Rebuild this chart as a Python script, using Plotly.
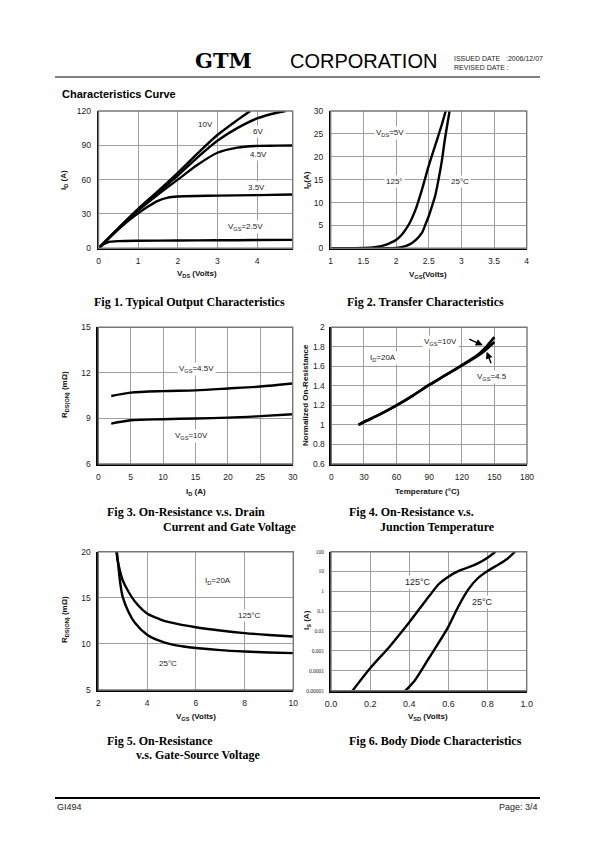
import plotly.graph_objects as go

W, H = 595, 842

# ---------------- data ----------------
# Fig 1: Typical Output Characteristics (ID vs VDS)
f1_vds_10 = [0, 0.5, 1.0, 1.5, 2.0, 2.5, 3.0, 3.5, 3.83]
f1_id_10 = [0, 17.5, 34.5, 50, 66, 83, 99, 112, 120]
f1_vds_6 = [0, 0.5, 1.0, 1.5, 2.0, 2.5, 3.0, 3.5, 4.0, 4.5, 4.72]
f1_id_6 = [0, 17.5, 34, 49, 63.5, 79.5, 94, 105, 113.5, 118.5, 120]
f1_vds_45 = [0, 0.5, 1.0, 1.5, 2.0, 2.5, 3.0, 3.5, 4.0, 4.5, 4.9]
f1_id_45 = [0, 17, 33, 47, 60, 73, 83.5, 88, 89.5, 89.7, 89.8]
f1_vds_35 = [0, 0.25, 0.5, 0.75, 1.0, 1.25, 1.5, 1.75, 2.0, 3.0, 4.0, 4.9]
f1_id_35 = [0, 8.5, 16.5, 24, 30.5, 36.5, 41.5, 44.3, 45.3, 46, 46.5, 47]
f1_vds_25 = [0, 0.1, 0.2, 0.3, 0.5, 1.0, 2.0, 3.0, 4.0, 4.9]
f1_id_25 = [0, 2.8, 4.8, 5.8, 6.3, 6.6, 6.8, 7.0, 7.2, 7.4]

# Fig 2: Transfer Characteristics (ID vs VGS)
f2_vgs_125 = [1.0, 1.5, 1.7, 1.8, 1.9, 2.0, 2.1, 2.2, 2.3, 2.4, 2.5, 2.6, 2.7, 2.76]
f2_id_125 = [0, 0.05, 0.3, 0.6, 1.1, 1.8, 3.2, 5.3, 8.5, 13.0, 18.0, 22.5, 27.0, 30]
f2_vgs_25 = [1.0, 1.9, 2.0, 2.1, 2.2, 2.3, 2.4, 2.45, 2.5, 2.55, 2.6, 2.65, 2.7, 2.75, 2.82]
f2_id_25 = [0, 0, 0.1, 0.3, 0.8, 1.8, 3.5, 5.2, 7.0, 9.2, 11.5, 15, 19, 24, 30]

# Fig 3: On-Resistance vs Drain Current
f3_id = [2, 5, 10, 15, 20, 25, 30]
f3_r_45 = [10.48, 10.7, 10.8, 10.85, 10.97, 11.1, 11.3]
f3_r_10 = [8.66, 8.88, 8.95, 9.0, 9.05, 9.15, 9.28]

# Fig 4: Normalized On-Resistance vs Junction Temperature
f4_t_10 = [25, 30, 45, 60, 75, 90, 105, 120, 135, 140, 150]
f4_r_10 = [1.0, 1.03, 1.11, 1.2, 1.3, 1.41, 1.51, 1.61, 1.72, 1.77, 1.90]
f4_t_45 = [25, 30, 45, 60, 75, 90, 105, 120, 135, 140, 150]
f4_r_45 = [1.0, 1.03, 1.11, 1.2, 1.3, 1.41, 1.51, 1.61, 1.71, 1.75, 1.85]

# Fig 5: On-Resistance vs Gate-Source Voltage
f5_vgs_125 = [2.74, 2.8, 2.9, 3.0, 3.25, 3.5, 4.0, 4.5, 5.0, 6.0, 7.0, 8.0, 9.0, 10.0]
f5_r_125 = [20, 19, 17.8, 16.9, 15.6, 14.6, 13.3, 12.7, 12.3, 11.8, 11.45, 11.17, 10.97, 10.8]
f5_vgs_25 = [2.76, 2.82, 2.9, 3.0, 3.25, 3.5, 4.0, 4.5, 5.0, 5.5, 6.0, 7.0, 8.0, 9.0, 10.0]
f5_r_25 = [20, 18.5, 16.6, 15.1, 13.4, 12.3, 11.0, 10.35, 9.95, 9.72, 9.56, 9.33, 9.18, 9.07, 9.0]

# Fig 6: Body Diode Characteristics (IS vs VSD, log)
f6_vsd_125 = [0.11, 0.2, 0.3, 0.4, 0.5, 0.55, 0.6, 0.65, 0.7, 0.75, 0.8, 0.84]
f6_is_125 = [1e-5, 1.35e-4, 1.7e-3, 0.028, 0.55, 2.3, 5.5, 10.5, 16, 26, 50, 100]
f6_vsd_25 = [0.38, 0.43, 0.5, 0.6, 0.65, 0.7, 0.75, 0.8, 0.85, 0.9, 0.94]
f6_is_25 = [1e-5, 3.5e-5, 4.3e-4, 0.017, 0.17, 1.2, 4.6, 10.7, 21, 43, 100]

f6_ytick_vals = [1e-5, 1e-4, 1e-3, 1e-2, 0.1, 1, 10, 100]
f6_ytick_text = ["0.00001", "0.0001", "0.001", "0.01", "0.1", "1", "10", "100"]
f4_ytick_vals = [0.6, 0.8, 1.0, 1.2, 1.4, 1.6, 1.8, 2.0]
f4_ytick_text = ["0.6", "0.8", "1", "1.2", "1.4", "1.6", "1.8", "2"]

# ---------------- helpers ----------------
SANS = "Liberation Sans, Arial, sans-serif"
SERIF = "Liberation Serif, Times New Roman, serif"
GRID = "#a0a0a0"
TICK = 8.5


def dom(x0, x1, y0, y1):
    return [x0 / W, x1 / W], [1 - y1 / H, 1 - y0 / H]


def PX(x):
    return x / W


def PY(y):
    return 1 - y / H


fig = go.Figure()
annotations = []
shapes = []


def add_line(xs, ys, n, width=2.4):
    fig.add_trace(go.Scatter(
        x=xs, y=ys, mode="lines", xaxis="x%d" % n if n > 1 else "x",
        yaxis="y%d" % n if n > 1 else "y",
        line=dict(color="black", width=width, shape="spline", smoothing=0.8),
        hoverinfo="skip", showlegend=False))


def axes(n, xdom, ydom, xrange, yrange, xdtick=None, ydtick=None, ylog=False,
         ytickvals=None, yticktext=None, yfont=TICK, xfont=TICK, yfontfam=SANS,
         ystandoff=4):
    sfx = "" if n == 1 else str(n)
    xa = dict(domain=xdom, range=xrange, anchor="y" + sfx, showgrid=True,
              gridcolor=GRID, gridwidth=1.4, zeroline=False, showline=True,
              linecolor="black", linewidth=1.6, ticks="", ticklabelstandoff=4,
              automargin=False,
              tickfont=dict(family=SANS, size=xfont, color="#222"), fixedrange=True)
    if xdtick:
        xa.update(tick0=xrange[0], dtick=xdtick)
    ya = dict(domain=ydom, range=yrange, anchor="x" + sfx, showgrid=True,
              gridcolor=GRID, gridwidth=1.4, zeroline=False, showline=True,
              linecolor="black", linewidth=1.6, ticks="", ticklabelstandoff=ystandoff,
              automargin=False,
              tickfont=dict(family=yfontfam, size=yfont, color="#222"), fixedrange=True)
    if ylog:
        ya["type"] = "log"
    if ydtick:
        ya.update(tick0=yrange[0], dtick=ydtick)
    if ytickvals is not None:
        ya.update(tickmode="array", tickvals=ytickvals, ticktext=yticktext)
    fig.layout["xaxis" + sfx] = xa
    fig.layout["yaxis" + sfx] = ya
    shapes.append(dict(type="rect", xref="x%s domain" % sfx, yref="y%s domain" % sfx,
                       x0=0, x1=1, y0=0, y1=1, line=dict(color="#777", width=1.4),
                       layer="above"))


def lab(n, x, y, text, box=True, size=8):
    sfx = "" if n == 1 else str(n)
    annotations.append(dict(x=x, y=y, xref="x" + sfx, yref="y" + sfx, text=text,
                            showarrow=False, bgcolor="white" if box else None,
                            borderpad=1,
                            font=dict(family=SANS, size=size, color="#222")))


def ptext(x, y, text, size=8, family=SANS, anchor="center", angle=0, color="#111", yanchor="middle"):
    annotations.append(dict(x=PX(x), y=PY(y), xref="paper", yref="paper", text=text,
                            showarrow=False, xanchor=anchor, yanchor=yanchor,
                            textangle=angle,
                            font=dict(family=family, size=size, color=color)))


# ---------------- Fig 1 ----------------
axes(1, *dom(98.5, 292.7, 111, 248.3), [0, 4.9], [0, 120], xdtick=1, ydtick=30)
for xs, ys in [(f1_vds_10, f1_id_10), (f1_vds_6, f1_id_6), (f1_vds_45, f1_id_45),
               (f1_vds_35, f1_id_35), (f1_vds_25, f1_id_25)]:
    add_line(xs, ys, 1)
lab(1, 2.71, 108.6, "10V")
lab(1, 4.02, 102.5, "6V")
lab(1, 4.03, 82.2, "4.5V")
lab(1, 3.99, 53.3, "3.5V")
lab(1, 3.70, 18.9, "V<sub>GS</sub>=2.5V")
ptext(197, 274, "<b>V<sub>DS</sub> (Volts)</b>")
ptext(64, 180, "<b>I<sub>D</sub> (A)</b>", angle=-90)

# ---------------- Fig 2 ----------------
axes(2, *dom(330.7, 526.7, 111, 248.3), [1, 4], [0, 30], xdtick=0.5, ydtick=5)
add_line(f2_vgs_125, f2_id_125, 2)
add_line(f2_vgs_25, f2_id_25, 2)
lab(2, 1.91, 25.1, "V<sub>DS</sub>=5V")
lab(2, 1.98, 14.7, "125°")
lab(2, 2.98, 14.55, "25°C")
ptext(428, 275, "<b>V<sub>GS</sub>(Volts)</b>")
ptext(307, 180, "<b>I<sub>D</sub>(A)</b>", angle=-90)

# ---------------- Fig 3 ----------------
axes(3, *dom(98.3, 292.7, 327.3, 464), [0, 30], [6, 15], xdtick=5, ydtick=3)
add_line(f3_id, f3_r_45, 3)
add_line(f3_id, f3_r_10, 3)
lab(3, 15.2, 12.24, "V<sub>GS</sub>=4.5V")
lab(3, 14.4, 7.86, "V<sub>GS</sub>=10V")
ptext(196, 492, "<b>I<sub>D</sub> (A)</b>")
ptext(65, 395, "<b>R<sub>DS(ON)</sub> (mΩ)</b>", angle=-90)

# ---------------- Fig 4 ----------------
axes(4, *dom(331.3, 527, 327.3, 464), [0, 180], [0.6, 2.0], xdtick=30,
     ytickvals=f4_ytick_vals, yticktext=f4_ytick_text, ystandoff=3)
add_line(f4_t_10, f4_r_10, 4, width=2.6)
add_line(f4_t_45, f4_r_45, 4, width=2.6)
lab(4, 47.8, 1.69, "I<sub>D</sub>=20A")
lab(4, 100, 1.846, "V<sub>GS</sub>=10V")
lab(4, 147.5, 1.488, "V<sub>GS</sub>=4.5")
annotations.append(dict(x=139.3, y=1.815, xref="x4", yref="y4", text="", showarrow=True,
                        ax=-15, ay=-7, arrowhead=2, arrowsize=1, arrowwidth=1.4,
                        arrowcolor="black"))
annotations.append(dict(x=142.9, y=1.75, xref="x4", yref="y4", text="", showarrow=True,
                        ax=5, ay=13, arrowhead=2, arrowsize=1, arrowwidth=1.4,
                        arrowcolor="black"))
ptext(427, 492, "<b>Temperature (°C)</b>")
ptext(305, 395, "<b>Normalized On-Resistance</b>", angle=-90)

# ---------------- Fig 5 ----------------
axes(5, *dom(98.3, 293.3, 551.7, 690), [2, 10], [5, 20], xdtick=2, ydtick=5)
add_line(f5_vgs_125, f5_r_125, 5)
add_line(f5_vgs_25, f5_r_25, 5)
lab(5, 6.92, 16.82, "I<sub>D</sub>=20A")
lab(5, 8.19, 13.06, "125°C")
lab(5, 4.87, 7.9, "25°C")
ptext(196, 717, "<b>V<sub>GS</sub> (Volts)</b>")
ptext(65, 620, "<b>R<sub>DS(ON)</sub> (mΩ)</b>", angle=-90)

# ---------------- Fig 6 ----------------
axes(6, *dom(331, 526.7, 551.7, 690.7), [0, 1.0], [-5, 2], ylog=True,
     ytickvals=f6_ytick_vals, yticktext=f6_ytick_text, yfont=5.5, xfont=9,
     yfontfam=SERIF)
fig.layout.xaxis6.update(tickformat=".1f", dtick=0.2, tick0=0)
add_line(f6_vsd_125, f6_is_125, 6)
add_line(f6_vsd_25, f6_is_25, 6)
lab(6, 0.446, 0.46, "125°C", size=9)
lab(6, 0.773, -0.52, "25°C", size=9)
ptext(428, 717, "<b>V<sub>SD</sub> (Volts)</b>")
ptext(307, 620, "<b>I<sub>S</sub> (A)</b>", angle=-90)

# ---------------- page text ----------------
ptext(223, 60, "<b>GTM</b>", size=21, family="DejaVu Serif, serif", color="black")
ptext(288, 61, "CORPORATION", size=20, family=SANS, anchor="left", color="black")
ptext(452, 58, "ISSUED DATE   :2006/12/07", size=7, anchor="left", color="#222")
ptext(452, 67, "REVISED DATE :", size=7, anchor="left", color="#222")
ptext(60, 94, "<b>Characteristics Curve</b>", size=11, anchor="left", color="black")

ptext(189, 302, "<b>Fig 1. Typical Output Characteristics</b>", size=12, family=SERIF, color="black")
ptext(425, 302, "<b>Fig 2. Transfer Characteristics</b>", size=12, family=SERIF, color="black")
ptext(105, 512, "<b>Fig 3. On-Resistance v.s. Drain</b>", size=12, family=SERIF, anchor="left", color="black")
ptext(161, 527, "<b>Current and Gate Voltage</b>", size=12, family=SERIF, anchor="left", color="black")
ptext(347, 512, "<b>Fig 4. On-Resistance v.s.</b>", size=12, family=SERIF, anchor="left", color="black")
ptext(378, 527, "<b>Junction Temperature</b>", size=12, family=SERIF, anchor="left", color="black")
ptext(105, 741, "<b>Fig 5. On-Resistance</b>", size=12, family=SERIF, anchor="left", color="black")
ptext(134, 755, "<b>v.s. Gate-Source Voltage</b>", size=12, family=SERIF, anchor="left", color="black")
ptext(347, 741, "<b>Fig 6. Body Diode Characteristics</b>", size=12, family=SERIF, anchor="left", color="black")

ptext(55, 807, "GI494", size=9, anchor="left", color="#222")
ptext(540, 807, "Page: 3/4", size=9, anchor="right", color="#222")

shapes.append(dict(type="line", xref="paper", yref="paper", x0=PX(55), x1=PX(540),
                   y0=PY(77), y1=PY(77), line=dict(color="black", width=1)))
shapes.append(dict(type="line", xref="paper", yref="paper", x0=PX(55), x1=PX(540),
                   y0=PY(798), y1=PY(798), line=dict(color="black", width=2)))

fig.update_layout(width=W, height=H, margin=dict(l=0, r=0, t=0, b=0, autoexpand=False),
                  paper_bgcolor="white", plot_bgcolor="white", showlegend=False,
                  annotations=annotations, shapes=shapes)

fig.write_html("out.html", config={"displayModeBar": False},
               post_script="document.body.style.margin='0';document.body.style.padding='0';"
                           "document.documentElement.style.overflow='hidden';")
